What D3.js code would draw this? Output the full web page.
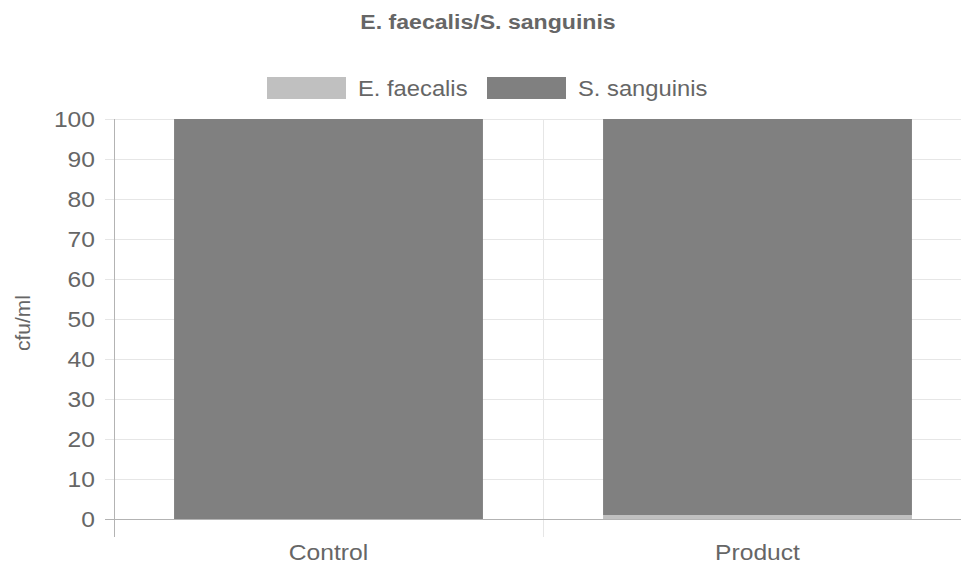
<!DOCTYPE html>
<html><head><meta charset="utf-8">
<script src="https://cdn.jsdelivr.net/npm/d3@7"></script>
<style>body{margin:0;background:#fff;overflow:hidden}svg{display:block}text{font-family:"Liberation Sans",Arial,sans-serif}</style>
</head><body>
<svg id="c" width="961" height="564"></svg>
<script>
const categories = ["Control", "Product"];
const seriesNames = ["E. faecalis", "S. sanguinis"];
const eFaecalis = [0, 1];
const sSanguinis = [100, 99];
const yTicks = [0,10,20,30,40,50,60,70,80,90,100];
const colors = ["#c0c0c0", "#808080"];
const title = "E. faecalis/S. sanguinis";
const yLabel = "cfu/ml";

const svg = d3.select("#c");
const L = 114, R = 972, T = 119, B = 519;
const SX = 1.12;
const x = d3.scaleBand().domain(categories).range([L, R]).paddingInner(0.28).paddingOuter(0.14);
const xg = d3.scaleBand().domain(categories).range([L, R]);
const y = d3.scaleLinear().domain([0, 100]).range([B, T]);

function label(g, tx, ty, txt, anchor, size, sx, weight) {
  return g.append("text")
    .attr("transform", `translate(${tx},${ty}) scale(${sx},1)`)
    .attr("text-anchor", anchor).attr("font-size", size)
    .attr("font-weight", weight || "normal").attr("fill", "#666").text(txt);
}

// horizontal grid
svg.append("g").selectAll("line").data(yTicks.filter(d=>d!==0)).join("line")
  .attr("x1", L-9).attr("x2", R).attr("y1", d=>y(d)+0.5).attr("y2", d=>y(d)+0.5)
  .attr("stroke", "#e6e6e6").attr("stroke-width", 1);
// vertical grid
svg.append("g").selectAll("line").data(categories.slice(1)).join("line")
  .attr("x1", d=>xg(d)+0.5).attr("x2", d=>xg(d)+0.5).attr("y1", T).attr("y2", B+18)
  .attr("stroke", "#e6e6e6").attr("stroke-width", 1);

// stacked bars
const data = categories.map((c,i)=>({cat:c, [seriesNames[0]]:eFaecalis[i], [seriesNames[1]]:sSanguinis[i]}));
const stack = d3.stack().keys(seriesNames)(data);
svg.append("g").selectAll("g").data(stack).join("g").attr("fill",(d,i)=>colors[i])
  .selectAll("rect").data(d=>d).join("rect")
  .attr("x", d=>x(d.data.cat)).attr("width", x.bandwidth())
  .attr("y", d=>y(d[1])).attr("height", d=>Math.max(0, y(d[0])-y(d[1])));

// axes lines
svg.append("line").attr("x1", L-9).attr("x2", R).attr("y1", B+0.5).attr("y2", B+0.5).attr("stroke", "#b3b3b3");
svg.append("line").attr("x1", L+0.5).attr("x2", L+0.5).attr("y1", T).attr("y2", B+18).attr("stroke", "#b3b3b3");

// y tick labels
const yl = svg.append("g");
yTicks.forEach(t => label(yl, L-19, y(t)+8, String(t), "end", 22, SX));

// x tick labels
const xl = svg.append("g");
categories.forEach(c => label(xl, xg(c)+xg.bandwidth()/2, 560, c, "middle", 22, SX));

// title
label(svg, 488, 29, title, "middle", 21, 1.1, "bold");

// y label
svg.append("text").attr("transform","translate(30,323) rotate(-90)").attr("text-anchor","middle")
  .attr("font-size", 21).attr("fill","#666").text(yLabel);

// legend
const legendX = [267, 487];
const lg = svg.append("g").selectAll("g").data(seriesNames).join("g")
  .attr("transform",(d,i)=>`translate(${legendX[i]},77)`);
lg.append("rect").attr("width",79).attr("height",22).attr("fill",(d,i)=>colors[i]);
lg.each(function(d){ label(d3.select(this), 91, 19, d, "start", 22, 1.08); });
</script>
</body></html>
